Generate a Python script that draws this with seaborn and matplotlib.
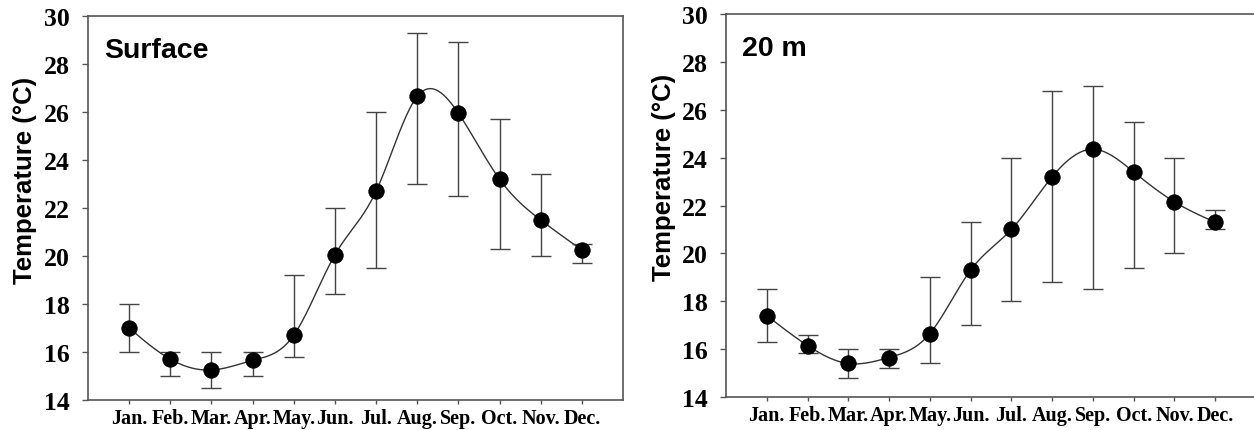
import matplotlib
matplotlib.use('Agg')
import matplotlib.pyplot as plt
import seaborn as sns
import numpy as np
import pandas as pd

sns.set_style("white")
plt.rcParams['text.color'] = 'black'
plt.rcParams['axes.labelcolor'] = 'black'
plt.rcParams['xtick.color'] = 'black'
plt.rcParams['ytick.color'] = 'black'

months = ['Jan.', 'Feb.', 'Mar.', 'Apr.', 'May.', 'Jun.', 'Jul.', 'Aug.', 'Sep.', 'Oct.', 'Nov.', 'Dec.']

# surface temperature (mean, lower and upper end of the error bar)
surface_mean = [17.0, 15.7, 15.25, 15.65, 16.7, 20.05, 22.7, 26.65, 25.95, 23.2, 21.5, 20.25]
surface_low = [16.0, 15.0, 14.5, 15.0, 15.8, 18.4, 19.5, 23.0, 22.5, 20.3, 20.0, 19.7]
surface_high = [18.0, 16.0, 16.0, 16.0, 19.2, 22.0, 26.0, 29.3, 28.9, 25.7, 23.4, 20.5]

# 20 m depth
m20_mean = [17.4, 16.15, 15.4, 15.65, 16.65, 19.3, 21.0, 23.2, 24.35, 23.4, 22.15, 21.3]
m20_low = [16.3, 15.85, 14.8, 15.2, 15.4, 17.0, 18.0, 18.8, 18.5, 19.4, 20.0, 21.0]
m20_high = [18.5, 16.6, 16.0, 16.0, 19.0, 21.3, 24.0, 26.8, 27.0, 25.5, 24.0, 21.8]

panels = [('Surface', surface_mean, surface_low, surface_high),
          ('20 m', m20_mean, m20_low, m20_high)]

W, H = 1254, 431
# axes boxes in pixels: left, bottom(from top), right, top(from top)
boxes = [(88, 401, 623, 17), (726, 398, 1256, 15)]


def spline(x, y, n=400):
    # natural cubic spline, only used to draw the smooth connecting line
    x = np.asarray(x, float)
    y = np.asarray(y, float)
    k = len(x)
    h = np.diff(x)
    A = np.zeros((k, k))
    b = np.zeros(k)
    A[0, 0] = A[-1, -1] = 1
    for i in range(1, k - 1):
        A[i, i - 1] = h[i - 1]
        A[i, i] = 2 * (h[i - 1] + h[i])
        A[i, i + 1] = h[i]
        b[i] = 3 * ((y[i + 1] - y[i]) / h[i] - (y[i] - y[i - 1]) / h[i - 1])
    c = np.linalg.solve(A, b)
    xs = np.linspace(x[0], x[-1], n)
    idx = np.clip(np.searchsorted(x, xs) - 1, 0, k - 2)
    dx = xs - x[idx]
    bb = (y[idx + 1] - y[idx]) / h[idx] - h[idx] * (2 * c[idx] + c[idx + 1]) / 3
    d = (c[idx + 1] - c[idx]) / (3 * h[idx])
    ys = y[idx] + bb * dx + c[idx] * dx ** 2 + d * dx ** 3
    return xs, ys


fig = plt.figure(figsize=(W / 100, H / 100), dpi=100)

for (name, mean, low, high), (l, b, r, t) in zip(panels, boxes):
    ax = fig.add_axes([l / W, (H - b) / H, (r - l) / W, (b - t) / H])
    df = pd.DataFrame({'month': np.arange(12), 'temp': mean})
    xs, ys = spline(df['month'], df['temp'])
    sns.lineplot(x=xs, y=ys, ax=ax, color='#333333', lw=1.0)
    ax.errorbar(df['month'], df['temp'],
                yerr=[np.array(mean) - np.array(low), np.array(high) - np.array(mean)],
                fmt='none', ecolor='#444444', elinewidth=1.0, capsize=7.5, capthick=1.0)
    sns.scatterplot(data=df, x='month', y='temp', ax=ax, color='black', s=125,
                    edgecolor='black', linewidth=0.5, zorder=5)

    ax.set_xlim(-1, 12)
    ax.set_ylim(14, 30)
    ax.set_xticks(range(12))
    ax.set_xticklabels(months, fontfamily='Liberation Serif', fontweight='bold', fontsize=14.5)
    ax.set_yticks(range(14, 31, 2))
    ax.set_yticklabels([str(v) for v in range(14, 31, 2)], fontfamily='Liberation Serif',
                       fontweight='bold', fontsize=18.5)
    ax.tick_params(axis='both', which='both', direction='out', width=1.0,
                   color='#555555', labelcolor='black', left=True, bottom=True)
    ax.tick_params(axis='y', length=4.5, pad=8.5)
    ax.tick_params(axis='x', length=3, pad=2.5)
    for sp in ax.spines.values():
        sp.set_color('#555555')
        sp.set_linewidth(1.2)
    ax.set_xlabel('')
    ax.set_ylabel('Temperature (°C)', fontfamily='Liberation Sans', fontweight='bold',
                  fontsize=18.5, color='black')
    ax.yaxis.set_label_coords(-0.095, 0.575)
    ax.text(0.03, 0.945, name, transform=ax.transAxes, ha='left', va='top', color='black',
            fontfamily='Liberation Sans', fontweight='bold', fontsize=20.5)

plt.savefig('out.png', dpi=100)
plt.close()
